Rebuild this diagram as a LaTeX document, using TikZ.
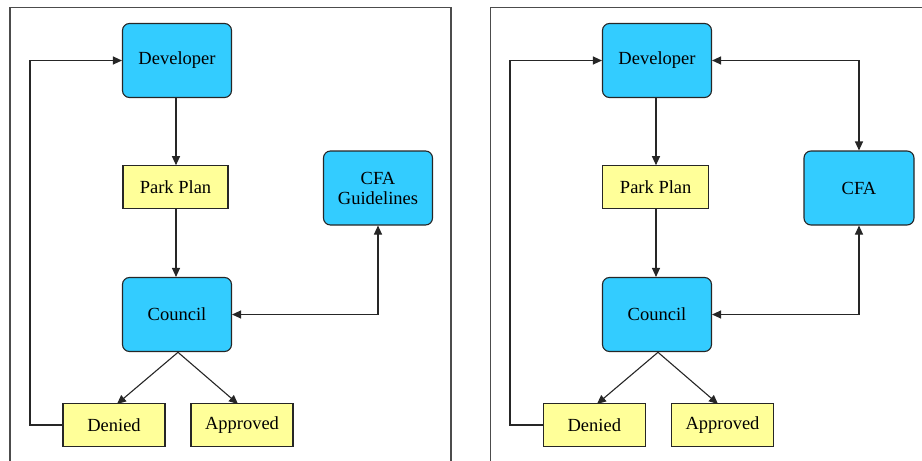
\documentclass[tikz,border=0pt]{standalone}
\usepackage{fontspec}
\newfontfamily\diagfont{Liberation Serif}
\usetikzlibrary{arrows.meta}
\begin{document}
\begin{tikzpicture}[x=1pt,y=-1pt,
  bluebox/.style={draw=black!85,line width=1.1pt,fill=bluefill,rounded corners=7pt,minimum width=109pt,minimum height=74pt,inner sep=0pt,font=\diagfont\fontsize{18.5}{20}\selectfont,align=center},
  yellowbox/.style={draw=black!85,line width=1.1pt,fill=yellowfill,minimum width=102pt,minimum height=42.5pt,inner sep=0pt,font=\diagfont\fontsize{18.5}{20}\selectfont},
  conn/.style={draw=black!85,line width=1.1pt,-{Triangle[length=9pt,width=8pt]}},
  bconn/.style={draw=black!85,line width=1.1pt,{Triangle[length=9pt,width=8pt]}-{Triangle[length=9pt,width=8pt]}},
  frameline/.style={draw=black!70,line width=1.4pt}]
\definecolor{bluefill}{HTML}{33CCFF}
\definecolor{yellowfill}{HTML}{FFFF99}
\useasboundingbox (0,0) rectangle (922,461);
% frames
\draw[frameline] (10,461) -- (10,7.5) -- (451,7.5) -- (451,461);
\draw[frameline] (490.5,461) -- (490.5,7.5) -- (922,7.5);
% left panel
\node[bluebox] (dev1) at (177,60.5) {Developer};
\node[yellowbox,minimum width=105pt] (pp1) at (175.5,187) {Park Plan};
\node[bluebox] (cfa1) at (378,188) {CFA\\Guidelines};
\node[bluebox] (co1) at (177,314.5) {Council};
\node[yellowbox] (den1) at (114,425) {Denied};
\node[yellowbox] (app1) at (242,425) {Approved};
\coordinate (co1b) at (178,352.3);
\draw[conn] (dev1.south -| 176,0) -- (pp1.north -| 176,0);
\draw[conn] (pp1.south -| 176,0) -- (co1.north -| 176,0);
\draw[conn] (co1b) -- (117,404);
\draw[conn] (co1b) -- (238,404);
\draw[bconn] (cfa1.south) |- (co1.east);
\draw[conn] (den1.west) -| (30,60.5) -- (dev1.west);
% right panel
\node[bluebox] (dev2) at (657,60.5) {Developer};
\node[yellowbox,minimum width=106pt] (pp2) at (655.7,187) {Park Plan};
\node[bluebox,minimum width=110pt] (cfa2) at (859,188) {CFA};
\node[bluebox] (co2) at (657,314.5) {Council};
\node[yellowbox] (den2) at (594.3,425) {Denied};
\node[yellowbox] (app2) at (722.5,425) {Approved};
\coordinate (co2b) at (658,352.3);
\draw[conn] (dev2.south -| 656,0) -- (pp2.north -| 656,0);
\draw[conn] (pp2.south -| 656,0) -- (co2.north -| 656,0);
\draw[conn] (co2b) -- (597,404);
\draw[conn] (co2b) -- (718,404);
\draw[bconn] (cfa2.north) |- (dev2.east);
\draw[bconn] (cfa2.south) |- (co2.east);
\draw[conn] (den2.west) -| (510,60.5) -- (dev2.west);
\end{tikzpicture}
\end{document}
